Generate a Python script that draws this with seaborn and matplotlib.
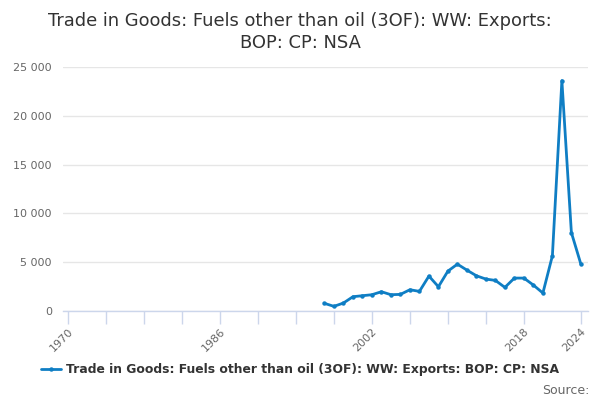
import pandas as pd
import seaborn as sns
import matplotlib.pyplot as plt
from matplotlib.ticker import FuncFormatter, FixedLocator

years = list(range(1997, 2025))
exports = [783, 477, 817, 1465, 1567, 1669, 1975, 1669, 1703, 2180,
           2010, 3576, 2486, 4087, 4802, 4189, 3610, 3270, 3134, 2418,
           3372, 3372, 2657, 1839, 5654, 23604, 8038, 4802]
series_name = "Trade in Goods: Fuels other than oil (3OF): WW: Exports: BOP: CP: NSA"
title = "Trade in Goods: Fuels other than oil (3OF): WW: Exports:\nBOP: CP: NSA"
x_ticks = list(range(1970, 2019, 4)) + [2024]
x_labels = ["1970", "1986", "2002", "2018", "2024"]
y_ticks = [0, 5000, 10000, 15000, 20000, 25000]

df = pd.DataFrame({"year": years, "value": exports, "series": series_name})

sns.set_style("white")
plt.rcParams["font.family"] = ["DejaVu Sans"]

fig = plt.figure(figsize=(6, 4), dpi=100)
ax = fig.add_axes([0.105, 0.2225, 0.875, 0.61])

sns.lineplot(data=df, x="year", y="value", hue="series", palette=["#0f7ec4"],
             marker="o", markersize=3.2, markeredgewidth=0, linewidth=2, ax=ax)

ax.set_xlim(1969.47, 2024.75)
ax.set_ylim(0, 25000)
ax.set_yticks(y_ticks)
ax.yaxis.set_major_formatter(FuncFormatter(lambda v, p: f"{int(v):,}".replace(",", " ")))
ax.xaxis.set_major_locator(FixedLocator(x_ticks))
ax.set_xticklabels([str(t) if str(t) in x_labels else "" for t in x_ticks],
                   rotation=45, ha="right", rotation_mode="anchor")
ax.tick_params(axis="x", bottom=True, direction="out", length=9.5, width=1,
               color="#ccd6eb", labelsize=8, labelcolor="#666666", pad=1.5)
ax.tick_params(axis="y", left=False, length=0, labelsize=8, labelcolor="#666666", pad=8)
ax.grid(axis="y", color="#e6e6e6", linewidth=1)
ax.set_axisbelow(True)
for s in ["top", "right", "left"]:
    ax.spines[s].set_visible(False)
ax.spines["bottom"].set_color("#ccd6eb")
ax.spines["bottom"].set_linewidth(1)
ax.set_xlabel("")
ax.set_ylabel("")

fig.suptitle(title, y=0.97, fontsize=12.85, color="#333333", linespacing=1.3)

ax.legend_.remove()
handles, labels = ax.get_legend_handles_labels()
fig.legend(handles, labels, loc="center", bbox_to_anchor=(0.5, 0.075), frameon=False,
           prop={"size": 8.9, "weight": "bold"}, labelcolor="#333333",
           handlelength=1.6, handletextpad=0.4)

fig.text(0.982, 0.025, "Source:", ha="right", va="center", fontsize=9, color="#666666")

fig.savefig("out.png", dpi=100)
